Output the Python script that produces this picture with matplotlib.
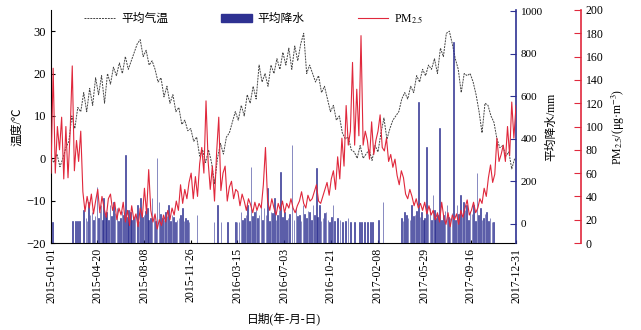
import numpy as np
import pandas as pd
import matplotlib
matplotlib.use("Agg")
import matplotlib.pyplot as plt
from matplotlib.lines import Line2D
from matplotlib.patches import Patch

plt.rcParams['font.family'] = ['Liberation Serif', 'Noto Sans CJK SC']
plt.rcParams['mathtext.fontset'] = 'stix'

# weekly mean temperature (deg C), starting 2015-01-01
temp = [0, -1, 1, -2, 0, 2.5, 4, 10, 7, 12, 11, 15.5, 11, 16.5, 12.5, 19, 15, 19.5, 13, 20,
        17.5, 21.5, 19.5, 22.5, 20, 24, 21, 23, 25, 27, 28, 24, 25.5, 22, 23, 21, 18, 19, 14.5, 17,
        13, 15, 11, 12, 8, 9, 6.5, 7, 4, 5, 0.5, 2, -1, 2, -1, -6, 0, 3.5, 1, 5,
        6, 8.5, 11, 9, 12.5, 10, 15, 13, 17, 14, 22, 18, 20, 17, 22, 20, 23.5, 21, 25, 22,
        26, 21, 26.5, 23, 27, 29.5, 20, 22, 20, 18, 19.5, 15.5, 17, 14, 11, 12.5, 9, 10, 6, 4.6,
        5, 2, 1.5, 0, 3, 0, 1, 2, -0.5, 3, 1.5, 6, 9.5, 4.5, 7, 9, 10, 11, 14, 15.5,
        14, 17, 15.5, 19.5, 18, 21, 19.5, 22, 21, 23.5, 20, 26, 24, 29.5, 30, 27, 23.5, 21, 15.5, 20,
        19.5, 20, 18, 15, 11, 6, 13, 12.5, 10, 8.5, 4.6, 2.5, 3, 0.5, 1.5, -2.5, 0]
temp_dates = pd.date_range('2015-01-01', periods=len(temp), freq='7D')

# PM2.5 (ug/m3) every 5 days
pm25 = [60, 150, 60, 100, 80, 108, 55, 100, 56, 95, 152, 62, 88, 70, 96, 44, 27, 40, 30, 42,
        25, 36, 46, 26, 40, 30, 22, 38, 42, 28, 35, 20, 30, 24, 35, 18, 28, 15, 32, 20,
        25, 14, 30, 22, 47, 25, 63, 28, 18, 25, 12, 20, 15, 24, 18, 28, 20, 30, 24, 36,
        28, 50, 34, 46, 38, 52, 60, 38, 57, 40, 68, 82, 60, 122, 70, 46, 66, 36, 78, 108,
        45, 60, 66, 36, 48, 53, 38, 46, 44, 32, 42, 36, 28, 38, 33, 26, 35, 28, 34, 30,
        50, 82, 36, 28, 38, 30, 24, 34, 28, 36, 26, 34, 30, 38, 30, 26, 32, 36, 44, 34,
        30, 41, 36, 38, 44, 50, 36, 34, 40, 46, 52, 41, 55, 62, 46, 74, 55, 90, 66, 118,
        84, 96, 155, 84, 132, 92, 178, 84, 96, 88, 72, 104, 76, 88, 96, 110, 82, 79, 90, 70,
        76, 65, 72, 58, 50, 62, 56, 42, 38, 46, 40, 32, 38, 30, 34, 28, 35, 25, 32, 24,
        28, 20, 26, 18, 35, 22, 16, 26, 14, 24, 20, 25, 16, 28, 22, 30, 37, 24, 28, 35,
        26, 30, 38, 34, 47, 40, 56, 67, 52, 59, 90, 70, 76, 84, 70, 100, 75, 121, 90, 118]
pm25_dates = pd.date_range('2015-01-01', periods=len(pm25), freq='5D')

# precipitation bars: day offset from 2015-01-01 and value (mm)
precip_day = [4, 51, 57, 62, 67, 77, 82, 85, 88, 92, 96, 100, 104, 108, 112, 115, 118, 121, 124, 128,
              131, 135, 139, 143, 147, 151, 155, 159, 163, 167, 171, 176, 180, 183, 187, 190, 194, 198, 203, 207,
              211, 215, 219, 223, 227, 230, 234, 238, 242, 246, 250, 254, 258, 262, 266, 270, 273, 277, 281, 285,
              289, 293, 297, 301, 305, 309, 313, 317, 321, 325, 344,
              384, 392, 400, 416, 434, 438, 443, 447, 451, 455, 459, 463, 467, 471, 475, 479, 483, 486, 490,
              494, 498, 502, 506, 510, 514, 518, 522, 526, 530, 533, 537, 541, 545, 550, 554, 558, 562, 568, 572,
              577, 581, 585, 589, 593, 597, 601, 605, 609, 613, 617, 621, 625, 628, 632, 636, 640, 644, 648, 652,
              656, 660, 664, 668, 675, 680, 687, 693, 699, 705, 715,
              727, 731, 738, 745, 752, 757, 771, 782,
              825, 829, 833, 837, 841, 845, 849, 853, 857, 861, 865, 869, 873, 877, 880, 884, 888, 892, 896, 900,
              903, 906, 910, 915, 919, 924, 928, 932, 936, 940, 944, 948, 952, 956, 960, 964, 968, 971, 975, 979,
              983, 987, 991, 995, 999, 1003, 1007, 1011, 1015, 1019, 1022, 1026, 1030, 1034, 1038, 1042]
precip = [9, 14, 14, 14, 14, 66, 28, 15, 103, 40, 56, 20, 35, 174, 28, 60, 89, 18, 122, 42,
          56, 20, 89, 35, 103, 50, 75, 15, 28, 60, 42, 324, 30, 66, 56, 20, 28, 45, 89, 15,
          122, 30, 42, 60, 75, 20, 28, 122, 40, 15, 310, 103, 45, 28, 20, 56, 35, 89, 15, 42,
          30, 9, 20, 28, 40, 75, 15, 28, 20, 9, 42,
          9, 89, 9, 9, 9, 9, 9, 56, 20, 28, 42, 89, 15, 267, 35, 56, 66, 28, 42,
          103, 20, 75, 40, 169, 15, 56, 50, 122, 20, 42, 66, 244, 30, 56, 20, 28, 45, 371, 20,
          75, 35, 42, 15, 89, 45, 28, 60, 56, 20, 89, 40, 263, 30, 89, 15, 28, 50, 56, 20,
          9, 30, 89, 15, 28, 20, 9, 15, 28, 9, 9,
          9, 9, 9, 9, 9, 9, 19, 103,
          28, 15, 56, 40, 28, 20, 89, 35, 42, 60, 572, 30, 56, 20, 28, 361, 45, 75, 20, 136,
          66, 28, 40, 450, 20, 42, 60, 89, 30, 28, 50, 854, 20, 89, 45, 136, 30, 103, 66, 89,
          20, 56, 45, 89, 15, 239, 40, 75, 20, 28, 45, 56, 15, 28, 9, 9]
precip_dates = pd.Timestamp('2015-01-01') + pd.to_timedelta(precip_day, unit='D')

tick_labels = ['2015-01-01', '2015-04-20', '2015-08-08', '2015-11-26', '2016-03-15', '2016-07-03',
               '2016-10-21', '2017-02-08', '2017-05-29', '2017-09-16', '2017-12-31']

BLUE = '#2e3192'
RED = '#e0283c'
PRECIP_FLOOR = -90

fig = plt.figure(figsize=(6.41, 3.30), dpi=100)
ax = fig.add_axes([0.0796, 0.2636, 0.7254, 0.7061])
ax2 = ax.twinx()
ax3 = ax.twinx()
ax3.spines['right'].set_position(('axes', 1.14))

ax.plot(temp_dates, temp, color='#444444', ls=(0, (2, 1)), lw=0.7)
ax2.bar(precip_dates, np.array(precip) - PRECIP_FLOOR, bottom=PRECIP_FLOOR, width=1.3,
        color=BLUE, edgecolor=BLUE, lw=0.4)
ax3.plot(pm25_dates, pm25, color=RED, lw=0.8)

ax.set_xlim(pd.Timestamp('2015-01-01'), pd.Timestamp('2017-12-31'))
ax.set_xticks(pd.to_datetime(tick_labels))
ax.set_xticklabels(tick_labels, rotation=90, fontsize=8.5)
ax.set_ylim(-20, 35)
ax.set_yticks([-20, -10, 0, 10, 20, 30])
ax2.set_ylim(PRECIP_FLOOR, 1005)
ax2.set_yticks(range(0, 1001, 200))
ax3.set_ylim(0, 200)
ax3.set_yticks(range(0, 201, 20))

ax.tick_params(axis='y', direction='in', length=3, labelsize=9)
ax.tick_params(axis='x', direction='in', length=2)
ax2.tick_params(axis='y', direction='in', length=4, color=BLUE, labelsize=8)
ax3.tick_params(axis='y', direction='in', length=5, color=RED, labelsize=8.5)

for a in (ax, ax2, ax3):
    a.spines['top'].set_visible(False)
ax.spines['right'].set_visible(False)
for a in (ax2, ax3):
    a.spines['left'].set_visible(False)
    a.spines['bottom'].set_visible(False)
ax2.spines['right'].set_color(BLUE)
ax2.spines['right'].set_linewidth(1.2)
ax3.spines['right'].set_color(RED)
ax3.spines['right'].set_linewidth(1.2)

ax.set_ylabel('温度/℃', fontsize=8.5, labelpad=2)
ax.set_xlabel('日期(年-月-日)', fontsize=8.5, labelpad=7)
ax2.set_ylabel('平均降水/mm', fontsize=8.5, labelpad=2)
ax3.set_ylabel(r'PM$_{2.5}$/(μg·m$^{-3}$)', fontsize=8.5, labelpad=4)

handles = [Line2D([], [], color='#444444', ls=(0, (2, 1)), lw=0.7),
           Patch(color=BLUE),
           Line2D([], [], color=RED, lw=0.8)]
fig.legend(handles, ['平均气温', '平均降水', r'PM$_{2.5}$'], ncol=3, loc='upper left',
           bbox_to_anchor=(0.115, 0.995), frameon=False, fontsize=8.5,
           handlelength=2.6, columnspacing=4.5, handletextpad=0.5)

fig.savefig('out.png', dpi=100)
